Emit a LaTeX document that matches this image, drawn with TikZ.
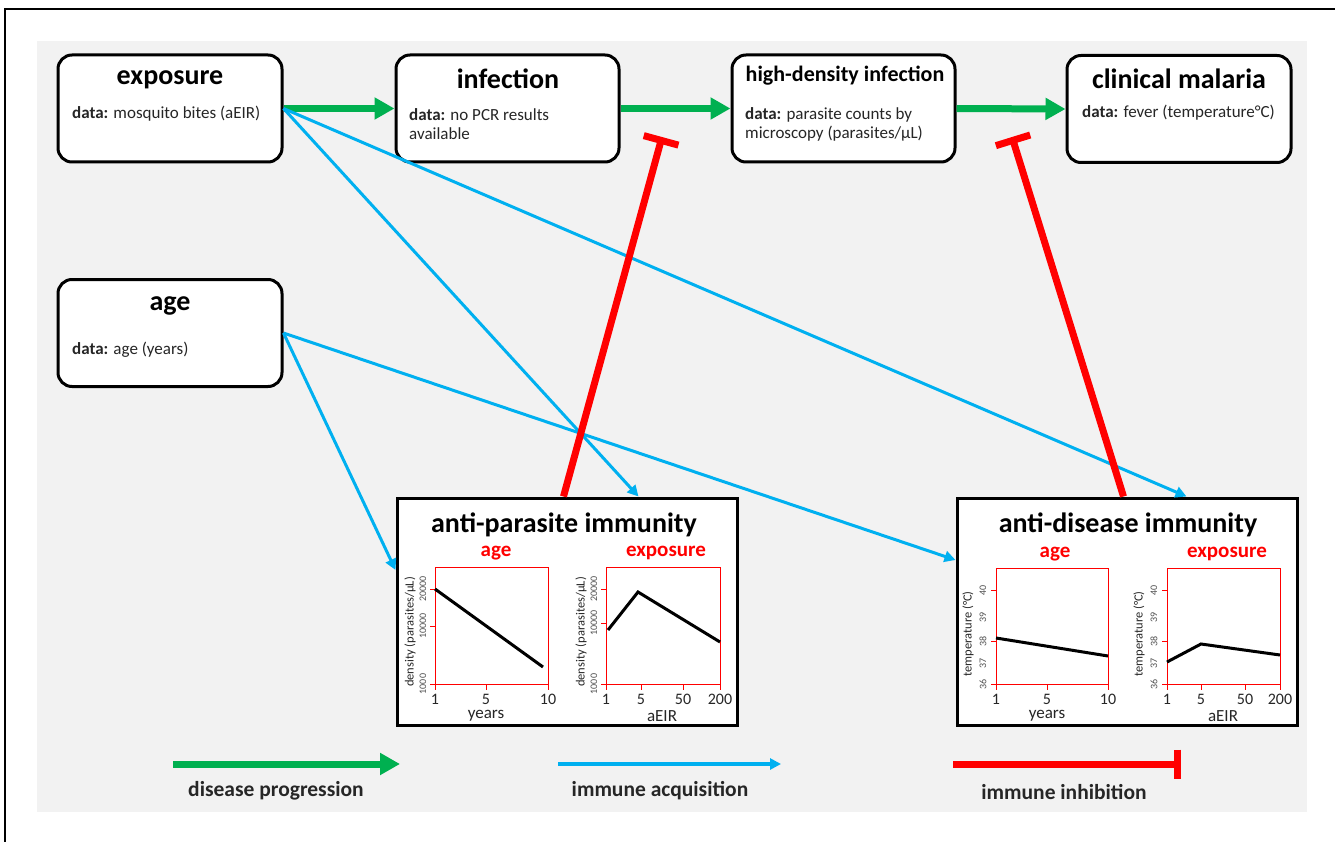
\documentclass[tikz,border=0pt]{standalone}
\usepackage{fontspec}
\setmainfont{Carlito}
\usetikzlibrary{arrows.meta}
\definecolor{bggray}{HTML}{F2F2F2}
\definecolor{pgreen}{HTML}{00B050}
\definecolor{pblue}{HTML}{00B0F0}
\definecolor{pred}{HTML}{FF0000}
\definecolor{txt}{HTML}{262626}
\newcommand{\fsz}[2]{\fontsize{#1}{#2}\selectfont}
\tikzset{
  rbox/.style={draw, line width=3pt, rounded corners=14pt, fill=white, minimum width=224pt, minimum height=107pt, inner sep=0pt},
  ibox/.style={draw, line width=3pt, fill=white, minimum width=340pt, minimum height=227pt, inner sep=0pt},
  ttl/.style={font=\bfseries\fsz{28}{33}, inner sep=0pt},
  sttl/.style={font=\bfseries\fsz{22}{26}, inner sep=0pt},
  rttl/.style={font=\bfseries\fsz{21}{25}, text=pred, inner sep=0pt},
  datat/.style={font=\fsz{17}{19}, text=txt, align=left, anchor=west, inner sep=0pt},
  prog/.style={draw=pgreen, line width=7pt, -{Triangle[length=20pt,width=21pt]}},
  acq/.style={draw=pblue, line width=3pt, -{Triangle[length=11pt,width=11pt]}},
  inh/.style={draw=pred, line width=7pt, -{Bar[width=36pt]}},
  pframe/.style={draw=pred, line width=0.9pt},
  curve/.style={draw=black, line width=3pt},
  xtl/.style={font=\fsz{16}{19}, text=txt, inner sep=0pt},
  axl/.style={font=\fsz{17}{19}, text=txt, inner sep=0pt},
  ytl/.style={font=\fsz{10}{12}, text=txt!80, inner sep=0pt, rotate=90},
  ylab/.style={font=\fsz{12.5}{14}, text=txt, inner sep=0pt, rotate=90},
  legt/.style={font=\bfseries\fsz{21.5}{24}, text=txt, inner sep=0pt}
}
\begin{document}
\begin{tikzpicture}[x=1pt,y=-1pt]
\useasboundingbox (0,0) rectangle (1335,842);
\fill[white] (0,0) rectangle (1335,842);
\draw[line width=1.5pt] (5,842) -- (5,9) -- (1335,9);
\fill[bggray] (37,41) rectangle (1307,812);

% top boxes
\node[rbox] (exp) at (170,108.5) {};
\node[rbox, minimum width=223pt] (inf) at (507.5,108.5) {};
\node[rbox, minimum width=223pt] (hd) at (843.5,108.5) {};
\node[rbox] (cm) at (1179,109) {};
\node[rbox] (age) at (170,333) {};

\node[ttl] (expt) at (170,80) {exposure};
\node[datat] (expd) at (72,114) {\textbf{data:} mosquito bites (aEIR)};
\node[ttl] (inft) at (508,79) {infection};
\node[datat] (infd) at (409,124) {\textbf{data:} no PCR results\\available};
\node[sttl] (hdt) at (845,76) {high-density infection};
\node[datat] (hdd) at (745,124) {\textbf{data:} parasite counts by\\microscopy (parasites/µL)};
\node[ttl] (cmt) at (1179,79) {clinical malaria};
\node[datat] (cmd) at (1082,113) {\textbf{data:} fever (temperature°C)};
\node[ttl] (aget) at (170,306) {age};
\node[datat] (aged) at (72,350) {\textbf{data:} age (years)};

% immunity boxes
\node[ibox] (ap) at (567,611.5) {};
\node[ibox] (ad) at (1127,611.5) {};

% connectors
\draw[prog] (exp.east) -- (inf.west);
\draw[prog] (inf.east) -- (hd.west);
\draw[prog] (hd.east) -- (cm.west);

\coordinate (inh1) at (662,137);
\coordinate (inh2) at (1012,137);
\draw[acq] (exp.east) -- ([xshift=243pt]ap.north west);
\draw[acq] (exp.east) -- ([xshift=231pt]ad.north west);
\draw[acq] (age.east) -- ([yshift=41.5pt]ap.west);
\draw[acq] (age.east) -- ([yshift=51.5pt]ad.west);
\draw[inh] ([xshift=168pt]ap.north west) -- (inh1);
\draw[inh] ([xshift=168pt]ad.north west) -- (inh2);

% anti-parasite panel
\node[ttl] (apt) at (564,525) {anti-parasite immunity};
\node[rttl] (apage) at (496,553) {age};
\node[rttl] (apexp) at (666,553) {exposure};
% age plot
\draw[pframe] (435,567) rectangle (548,684);
\foreach \y in {589,626,684} \draw[pframe] (430,\y) -- (435,\y);
\foreach \x in {435,486,548} \draw[pframe] (\x,684) -- (\x,690);
\node[xtl] (apax1) at (435,699) {1};
\node[xtl] (apax2) at (486,699) {5};
\node[xtl] (apax3) at (548,699) {10};
\node[axl] (apaxl) at (486,716) {years};
\node[ytl] (apay1) at (423,589) {20000};
\node[ytl] (apay2) at (423,626) {10000};
\node[ytl] (apay3) at (423,684) {1000};
\node[ylab] (apayl) at (410,632) {density (parasites/µL)};
\draw[curve] (435,589) -- (543,667);
% exposure plot
\draw[pframe] (606,567) rectangle (720,684);
\foreach \y in {589,623,684} \draw[pframe] (601,\y) -- (606,\y);
\foreach \x in {606,641,683,720} \draw[pframe] (\x,684) -- (\x,690);
\node[xtl] (apex1) at (606,699) {1};
\node[xtl] (apex2) at (641,699) {5};
\node[xtl] (apex3) at (683,699) {50};
\node[xtl] (apex4) at (720,699) {200};
\node[axl] (apexl) at (662,716) {aEIR};
\node[ytl] (apey1) at (594,589) {20000};
\node[ytl] (apey2) at (594,623) {10000};
\node[ytl] (apey3) at (594,684) {1000};
\node[ylab] (apeyl) at (581,632) {density (parasites/µL)};
\draw[curve] (608,630) -- (638,592) -- (720,642);

% anti-disease panel
\node[ttl] (adt) at (1128,525) {anti-disease immunity};
\node[rttl] (adage) at (1055,554) {age};
\node[rttl] (adexp) at (1227,554) {exposure};
% age plot
\draw[pframe] (996,568) rectangle (1108,684);
\foreach \y in {590,641,684} \draw[pframe] (991,\y) -- (996,\y);
\foreach \x in {996,1047,1108} \draw[pframe] (\x,684) -- (\x,690);
\node[xtl] (adax1) at (996,699) {1};
\node[xtl] (adax2) at (1047,699) {5};
\node[xtl] (adax3) at (1108,699) {10};
\node[axl] (adaxl) at (1047,716) {years};
\node[ytl] (aday1) at (983,684) {36};
\node[ytl] (aday2) at (983,663) {37};
\node[ytl] (aday3) at (983,641) {38};
\node[ytl] (aday4) at (983,617) {39};
\node[ytl] (aday5) at (983,590) {40};
\node[ylab] (adayl) at (968,634) {temperature (°C)};
\draw[curve] (996,638) -- (1108,656);
% exposure plot
\draw[pframe] (1167,568) rectangle (1280,684);
\foreach \y in {590,641,684} \draw[pframe] (1162,\y) -- (1167,\y);
\foreach \x in {1167,1201,1245,1280} \draw[pframe] (\x,684) -- (\x,690);
\node[xtl] (adex1) at (1167,699) {1};
\node[xtl] (adex2) at (1201,699) {5};
\node[xtl] (adex3) at (1245,699) {50};
\node[xtl] (adex4) at (1280,699) {200};
\node[axl] (adexl) at (1223,716) {aEIR};
\node[ytl] (adey1) at (1154,684) {36};
\node[ytl] (adey2) at (1154,663) {37};
\node[ytl] (adey3) at (1154,641) {38};
\node[ytl] (adey4) at (1154,617) {39};
\node[ytl] (adey5) at (1154,590) {40};
\node[ylab] (adeyl) at (1139,634) {temperature (°C)};
\draw[curve] (1167,662) -- (1201,644) -- (1280,655);

% legend
\coordinate (lg1) at (173,764);
\coordinate (lg2) at (400,764);
\coordinate (lb1) at (558,764);
\coordinate (lb2) at (781,764);
\coordinate (lr1) at (953,764);
\coordinate (lr2) at (1181,764);
\draw[prog] (lg1) -- (lg2);
\draw[acq, line width=3.5pt] (lb1) -- (lb2);
\draw[inh, -{Bar[width=29pt]}] (lr1) -- (lr2);
\node[legt] (lgt) at (276,791) {disease progression};
\node[legt] (lbt) at (660,791) {immune acquisition};
\node[legt] (lrt) at (1064,792) {immune inhibition};
\end{tikzpicture}
\end{document}
